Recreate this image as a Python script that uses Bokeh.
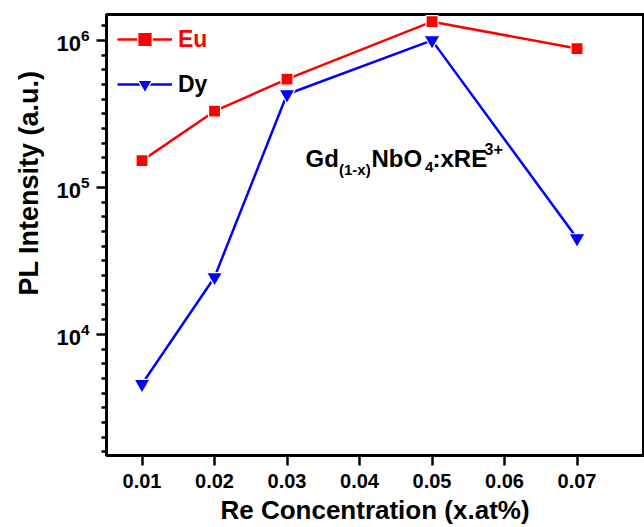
import math
from bokeh.plotting import figure
from bokeh.models import Label, Legend, LegendItem, FixedTicker, Range1d, Title
from bokeh.embed import file_html
from bokeh.resources import INLINE

# ---- data ----
concentration = [0.01, 0.02, 0.03, 0.05, 0.07]
eu_intensity = [1.52e5, 3.3e5, 5.45e5, 1.34e6, 8.8e5]
dy_intensity = [4.6e3, 2.45e4, 4.3e5, 1.0e6, 4.5e4]
x_ticks = [0.01, 0.02, 0.03, 0.04, 0.05, 0.06, 0.07]
y_ticks = [1e4, 1e5, 1e6]
series_names = ["Eu", "Dy"]
x_title = "Re Concentration (x.at%)"
y_title = "PL Intensity (a.u.)"

FONT = "Liberation Sans"
W, H = 644, 527
BL, BR, BT, BB = 106, 1, 14, 69
X_START = 0.0051
FW = W - BL - BR
FH = H - BT - BB
X_END = X_START + FW / 7250.0
Y_START, Y_END = 1500.0, 1.5e6

FL = BL   # frame left in page px
FT = BT   # frame top in page px


def dx(px):
    return X_START + (px - FL) * (X_END - X_START) / FW


def dy(py):
    lo, hi = math.log10(Y_START), math.log10(Y_END)
    return 10 ** (hi - (py - FT) * (hi - lo) / FH)


p = figure(width=W, height=H, output_backend="svg", toolbar_location=None,
           y_axis_type="log",
           x_range=Range1d(X_START, X_END), y_range=Range1d(Y_START, Y_END),
           min_border_left=BL, min_border_right=BR,
           min_border_top=BT, min_border_bottom=BB)

p.xgrid.visible = False
p.ygrid.visible = False
p.outline_line_color = "black"
p.outline_line_width = 3
p.background_fill_color = "white"
p.border_fill_color = "white"

for ax in (p.xaxis[0], p.yaxis[0]):
    ax.axis_line_width = 3
    ax.axis_line_color = "black"
    ax.major_tick_line_width = 2.5
    ax.major_tick_line_color = "black"
    ax.major_tick_out = 10
    ax.major_tick_in = 0
    ax.major_label_text_font = FONT
    ax.major_label_text_font_style = "bold"
    ax.major_label_text_color = "black"

p.xaxis[0].major_label_text_font_size = "20px"
p.yaxis[0].major_label_text_font_size = "22px"

p.xaxis[0].ticker = FixedTicker(ticks=x_ticks)
p.xaxis[0].minor_tick_line_color = None
p.xaxis[0].major_label_standoff = 8
p.xaxis[0].axis_label = x_title
p.xaxis[0].axis_label_text_font = FONT
p.xaxis[0].axis_label_text_font_style = "bold"
p.xaxis[0].axis_label_text_font_size = "26px"
p.xaxis[0].axis_label_text_color = "black"
p.xaxis[0].axis_label_standoff = 4

minor = [10 ** (e + k / 10) for e in range(3, 7) for k in range(1, 10)]
p.yaxis[0].ticker = FixedTicker(ticks=y_ticks, minor_ticks=minor)
p.yaxis[0].minor_tick_out = 5
p.yaxis[0].minor_tick_in = 0
p.yaxis[0].minor_tick_line_width = 2.5
p.yaxis[0].minor_tick_line_color = "black"
p.yaxis[0].major_label_standoff = 7

ytitle = Title(text=y_title, align="left", offset=160)
ytitle.text_font = FONT
ytitle.text_font_style = "bold"
ytitle.text_font_size = "27px"
ytitle.text_color = "black"
if "standoff" in Title.properties():
    ytitle.standoff = 20
p.add_layout(ytitle, "left")

eu_line = p.line(concentration, eu_intensity, line_color="#ff0000", line_width=2.5)
eu_pts = p.scatter(concentration, eu_intensity, marker="square", size=12,
                   fill_color="#ff0000", line_color="white", line_width=1.2)
dy_line = p.line(concentration, dy_intensity, line_color="#0000ff", line_width=2.5)
dy_pts = p.scatter(concentration, dy_intensity, marker="inverted_triangle", size=16,
                   fill_color="#0000ff", line_color="white", line_width=1.2)

GH = 36


def make_legend(name, renderers, color, loc):
    lg = Legend(items=[LegendItem(label=name, renderers=renderers)], location=loc)
    lg.border_line_color = None
    lg.background_fill_alpha = 0
    lg.padding = 0
    lg.margin = 0
    lg.spacing = 0
    lg.glyph_width = 55
    lg.glyph_height = GH
    lg.label_height = GH
    lg.label_standoff = 6
    lg.label_text_font = FONT
    lg.label_text_font_style = "bold"
    lg.label_text_font_size = "23px"
    lg.label_text_color = color
    lg.label_text_baseline = "middle"
    return lg


frame_bottom = FT + FH
p.add_layout(make_legend(series_names[0], [eu_line, eu_pts], "#ff0000",
                         (117 - FL, frame_bottom - 42 - GH // 2)))
p.add_layout(make_legend(series_names[1], [dy_line, dy_pts], "black",
                         (117 - FL, frame_bottom - 87 - GH // 2)))

# formula annotation Gd(1-x)NbO4:xRE3+
parts = [
    ("Gd", 305, 159, "24px"),
    ("(1-x)", 338.5, 170, "15px"),
    ("NbO", 371, 159, "24px"),
    ("4", 424.5, 168, "15px"),
    (":xRE", 432, 159, "24px"),
    ("3+", 484, 149, "16px"),
]
for txt, px, py, fs in parts:
    p.add_layout(Label(x=dx(px), y=dy(py), text=txt, text_font=FONT,
                       text_font_style="bold", text_font_size=fs,
                       text_align="left", text_baseline="alphabetic",
                       text_color="black"))

open("out.html", "w").write(file_html(p, INLINE))
